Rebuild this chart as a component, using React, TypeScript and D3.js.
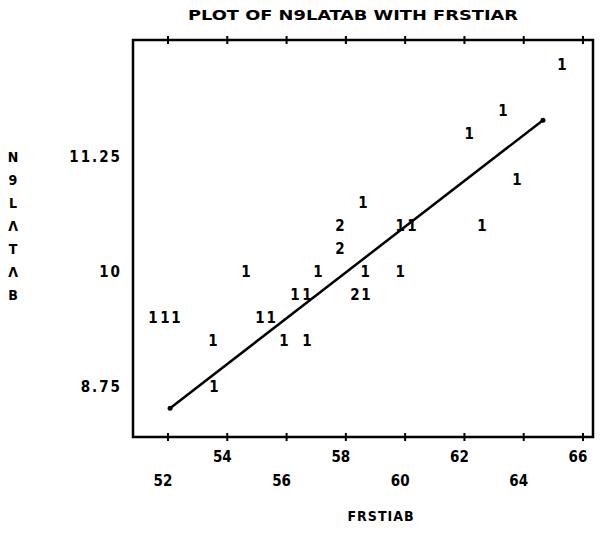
import React from 'react';
import * as d3 from 'd3';

// FRSTIAB (x), N9LATAB (y) and the count printed in each plot cell
const frstiab = [65.29, 63.3, 62.16, 63.77, 58.58, 57.8, 59.83, 60.23, 62.59, 57.8, 54.63, 57.06, 58.65, 59.83, 56.28, 56.69, 58.31, 58.68, 51.49, 51.9, 52.27, 55.1, 55.48, 53.52, 55.91, 56.69, 53.55];
const n9latab = [12.25, 11.75, 11.5, 11.0, 10.75, 10.5, 10.5, 10.5, 10.5, 10.25, 10.0, 10.0, 10.0, 10.0, 9.75, 9.75, 9.75, 9.75, 9.5, 9.5, 9.5, 9.5, 9.5, 9.25, 9.25, 9.25, 8.75];
const cellCount = [1, 1, 1, 1, 1, 2, 1, 1, 1, 2, 1, 1, 1, 1, 1, 1, 2, 1, 1, 1, 1, 1, 1, 1, 1, 1, 1];

// fitted line end points
const fitX = [52.07, 64.65];
const fitY = [8.52, 11.65];

const xTicks = [52, 54, 56, 58, 60, 62, 64, 66];
const yTicks = [11.25, 10, 8.75];
const yTitle = ['N', '9', 'L', 'Λ', 'T', 'Λ', 'B'];

const title = 'PLOT OF N9LATAB WITH FRSTIAR';
const xTitle = 'FRSTIAB';

const font = '"DejaVu Sans Condensed", "Liberation Sans Narrow", "DejaVu Sans", sans-serif';

export default function App() {
  const width = 603;
  const height = 546;
  const frame = { left: 133, right: 593, top: 40, bottom: 437 };

  const x = d3.scaleLinear().domain([52, 66]).range([168, 583]);
  const y = d3.scaleLinear().domain([8.75, 11.25]).range([387, 157]);

  const pts = frstiab.map((v, i) => ({ x: v, y: n9latab[i], n: cellCount[i] }));
  const line = d3.line<number>().x((d, i) => x(fitX[i])).y((d) => y(d));

  return (
    <div style={{ position: 'absolute', left: 0, top: 0 }}>
      <svg width={width} height={height} style={{ display: 'block', background: '#fff' }}>
        <text x={353} y={15} textAnchor="middle" dominantBaseline="central"
          fontFamily={font} fontWeight="bold" fontSize={14} textLength={330} lengthAdjust="spacingAndGlyphs">
          {title}
        </text>

        <rect x={frame.left} y={frame.top} width={frame.right - frame.left} height={frame.bottom - frame.top}
          fill="none" stroke="#000" strokeWidth={2.5} />

        {xTicks.map((t) => (
          <g key={'t' + t} stroke="#000" strokeWidth={2}>
            <line x1={x(t)} x2={x(t)} y1={frame.top - 4} y2={frame.top + 4} />
            <line x1={x(t)} x2={x(t)} y1={frame.bottom - 4} y2={frame.bottom + 4} />
          </g>
        ))}

        {xTicks.map((t, i) => (
          <text key={'xl' + t} x={x(t) - 5} y={i % 2 === 0 ? 481 : 457} textAnchor="middle" dominantBaseline="central"
            fontFamily={font} fontWeight="bold" fontSize={15}>
            {t}
          </text>
        ))}

        {yTicks.map((t) => (
          <text key={'yl' + t} x={122} y={y(t)} textAnchor="end" dominantBaseline="central"
            fontFamily={font} fontWeight="bold" fontSize={15} letterSpacing={2}>
            {t}
          </text>
        ))}

        {yTitle.map((c, i) => (
          <text key={'yt' + i} x={13} y={y(11.25 - 0.25 * i)} textAnchor="middle" dominantBaseline="central"
            fontFamily={font} fontWeight="bold" fontSize={14}>
            {c}
          </text>
        ))}

        <text x={381} y={516} textAnchor="middle" dominantBaseline="central"
          fontFamily={font} fontWeight="bold" fontSize={14} letterSpacing={1}>
          {xTitle}
        </text>

        <path d={line(fitY) || ''} fill="none" stroke="#000" strokeWidth={2.5} />
        {fitX.map((v, i) => (
          <circle key={'e' + i} cx={x(v)} cy={y(fitY[i])} r={2.5} fill="#000" />
        ))}

        {pts.map((p, i) => (
          <text key={'p' + i} x={x(p.x)} y={y(p.y)} textAnchor="middle" dominantBaseline="central"
            fontFamily={font} fontWeight="bold" fontSize={15}>
            {p.n}
          </text>
        ))}
      </svg>
    </div>
  );
}
